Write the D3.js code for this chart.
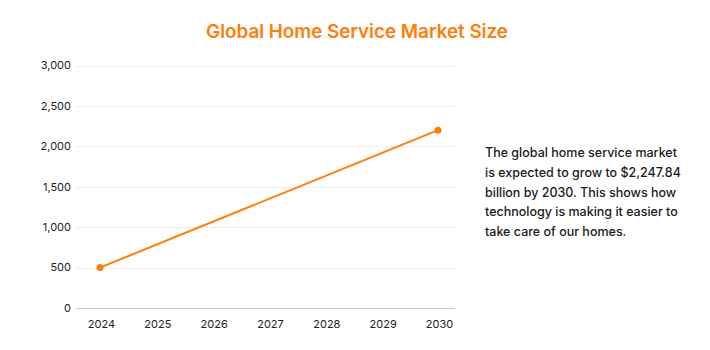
<!DOCTYPE html>
<html>
<head>
<meta charset="utf-8">
<script src="https://cdn.jsdelivr.net/npm/d3@7"></script>
<style>
  body { margin: 0; background: #fff; font-family: Inter, "Noto Sans", sans-serif; }
  svg { display: block; }
</style>
</head>
<body>
<svg id="chart" width="710" height="350"></svg>
<script>
// Data
const years = ["2024", "2025", "2026", "2027", "2028", "2029", "2030"];
const points = [
  { year: "2024", value: 500 },
  { year: "2030", value: 2200 }
];
const yTicks = [0, 500, 1000, 1500, 2000, 2500, 3000];
const noteLines = [
  "The global home service market",
  "is expected to grow to $2,247.84",
  "billion by 2030. This shows how",
  "technology is making it easier to",
  "take care of our homes."
];

const orange = "#ff7d0a";
const svg = d3.select("#chart");

// Title
svg.append("text")
  .attr("x", 357)
  .attr("y", 38)
  .attr("text-anchor", "middle")
  .attr("font-size", "18.8px")
  .attr("font-weight", 600)
  .attr("fill", orange)
  .text("Global Home Service Market Size");

// Scales
const x = d3.scalePoint().domain(years).range([100, 438]);
const y = d3.scaleLinear().domain([0, 3000]).range([308, 65.5]);

// Gridlines
svg.append("g")
  .selectAll("line")
  .data(yTicks)
  .enter().append("line")
  .attr("x1", 76)
  .attr("x2", 455)
  .attr("y1", d => Math.round(y(d)) + 0.5)
  .attr("y2", d => Math.round(y(d)) + 0.5)
  .attr("stroke", d => d === 0 ? "#c8c8c8" : "#eeeeee")
  .attr("stroke-width", 1);

// Y labels
svg.append("g")
  .selectAll("text")
  .data(yTicks)
  .enter().append("text")
  .attr("x", 71)
  .attr("y", d => y(d))
  .attr("dy", "0.35em")
  .attr("text-anchor", "end")
  .attr("font-size", "11px")
  .attr("fill", "#222")
  .text(d => d3.format(",")(d));

// X labels
svg.append("g")
  .selectAll("text")
  .data(years)
  .enter().append("text")
  .attr("x", d => x(d) + 1.5)
  .attr("y", 328)
  .attr("text-anchor", "middle")
  .attr("font-size", "11px")
  .attr("fill", "#222")
  .text(d => d);

// Line
const line = d3.line()
  .x(d => x(d.year))
  .y(d => y(d.value));

svg.append("path")
  .datum(points)
  .attr("d", line)
  .attr("fill", "none")
  .attr("stroke", orange)
  .attr("stroke-width", 2);

svg.append("g")
  .selectAll("circle")
  .data(points)
  .enter().append("circle")
  .attr("cx", d => x(d.year))
  .attr("cy", d => y(d.value))
  .attr("r", 3.5)
  .attr("fill", orange);

// Side note
svg.append("text")
  .attr("x", 485)
  .attr("y", 157)
  .attr("font-size", "12.5px")
  .attr("font-weight", 500)
  .attr("fill", "#1a1a1a")
  .selectAll("tspan")
  .data(noteLines)
  .enter().append("tspan")
  .attr("x", 485)
  .attr("dy", (d, i) => i === 0 ? 0 : 19.8)
  .text(d => d);
</script>
</body>
</html>
